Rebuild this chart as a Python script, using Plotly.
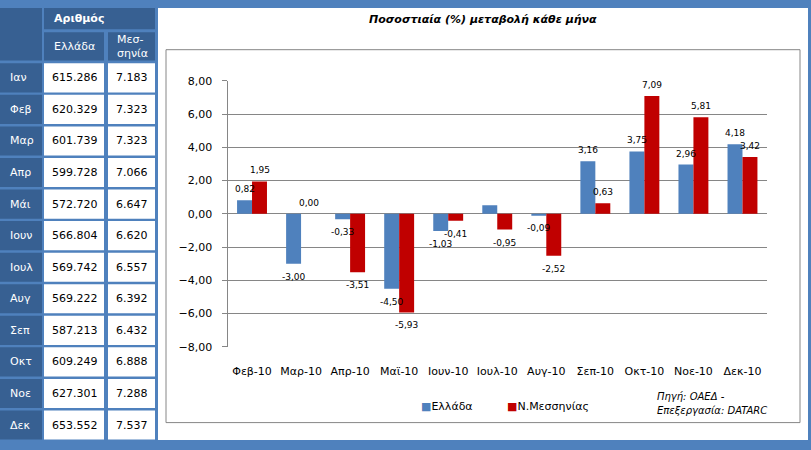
import plotly.graph_objects as go

# ---------------- data ----------------
months = ["Ιαν", "Φεβ", "Μαρ", "Απρ", "Μάι", "Ιουν", "Ιουλ", "Αυγ", "Σεπ", "Οκτ", "Νοε", "Δεκ"]
greece_counts = [615286, 620329, 601739, 599728, 572720, 566804, 569742, 569222, 587213, 609249, 627301, 653552]
messenia_counts = [7183, 7323, 7323, 7066, 6647, 6620, 6557, 6392, 6432, 6888, 7288, 7537]

categories = ["Φεβ-10", "Μαρ-10", "Απρ-10", "Μαϊ-10", "Ιουν-10", "Ιουλ-10",
              "Αυγ-10", "Σεπ-10", "Οκτ-10", "Νοε-10", "Δεκ-10"]
greece_pct = [0.82, -3.00, -0.33, -4.50, -1.03, 0.52, -0.09, 3.16, 3.75, 2.96, 4.18]
messenia_pct = [1.95, 0.00, -3.51, -5.93, -0.41, -0.95, -2.52, 0.63, 7.09, 5.81, 3.42]
greece_label_shown = [True, True, True, True, True, False, True, True, True, True, True]
messenia_label_shown = [True] * 11

y_ticks = [8, 6, 4, 2, 0, -2, -4, -6, -8]

# ---------------- style ----------------
W, H = 811, 450
FONT = "DejaVu Sans"
BLUE = "#4F81BD"
RED = "#C00000"
HEAD = "#376092"
GRID = "#868686"
TXT = "#000000"


def px(x):
    return x / W


def py(y):
    return 1 - y / H


def fmt_pct(v):
    return f"{v:.2f}".replace(".", ",")


def fmt_count(v):
    return f"{v:,}".replace(",", ".")


fig = go.Figure()
fig.add_trace(go.Bar(x=categories, y=greece_pct, name="Ελλάδα", marker_color=BLUE,
                     marker_line_width=0, showlegend=False, hoverinfo="x+y"))
fig.add_trace(go.Bar(x=categories, y=messenia_pct, name="Ν.Μεσσηνίας", marker_color=RED,
                     marker_line_width=0, showlegend=False, hoverinfo="x+y"))

shapes = []
annotations = []


def rect(x0, y0, x1, y1, color, line=None, lw=0):
    shapes.append(dict(type="rect", xref="paper", yref="paper",
                       x0=px(x0), x1=px(x1), y0=py(y1), y1=py(y0),
                       fillcolor=color, line=dict(width=lw, color=line or color),
                       layer="below"))


def text(x, y, s, size=11, color=TXT, anchor="left", bold=False, italic=False, align="left"):
    t = s
    if bold:
        t = "<b>" + t + "</b>"
    if italic:
        t = "<i>" + t + "</i>"
    annotations.append(dict(xref="paper", yref="paper", x=px(x), y=py(y), text=t,
                            showarrow=False, xanchor=anchor, yanchor="middle", align=align,
                            font=dict(family=FONT, size=size, color=color)))


# chart region white + inner frame
rect(158, 2, 808, 447, "white")
shapes.append(dict(type="rect", xref="paper", yref="paper",
                   x0=px(166), x1=px(800), y0=py(429), y1=py(45),
                   fillcolor="rgba(0,0,0,0)", line=dict(width=1, color=GRID), layer="below"))

# table
rect(0, 2, 42, 56, HEAD)
rect(44, 2, 155, 24, HEAD)
rect(44, 27, 104, 56, HEAD)
rect(108, 27, 155, 56, HEAD)
text(52, 13, "Αριθμός", color="white", bold=True)
text(52, 42, "Ελλάδα", color="white")
text(115, 42, "Μεσ-<br>σηνία", color="white")

for i, m in enumerate(months):
    top = 59 + 32.5 * i
    bot = top + 30
    mid = (top + bot) / 2
    rect(0, top, 42, bot, HEAD)
    rect(44, top, 104, bot, "white")
    rect(108, top, 155, bot, "white")
    text(8, mid, m, color="white")
    text(74.5, mid, fmt_count(greece_counts[i]), anchor="center")
    text(131.5, mid, fmt_count(messenia_counts[i]), anchor="center")

# title
text(483, 14, "Ποσοστιαία (%) μεταβολή κάθε μήνα", bold=True, italic=True)
annotations[-1]["xanchor"] = "center"

# data labels
for vals, shown, shift in ((greece_pct, greece_label_shown, -7.5), (messenia_pct, messenia_label_shown, 7.5)):
    for c, v, s in zip(categories, vals, shown):
        if not s:
            continue
        annotations.append(dict(x=c, y=v, xref="x", yref="y", text=fmt_pct(v), showarrow=False,
                                xanchor="center", yanchor="middle", xshift=shift,
                                yshift=11 if v >= 0 else -13,
                                font=dict(family=FONT, size=9, color=TXT)))

# legend (manual)
text(419, 412, f"<span style='color:{BLUE}'>■</span>Ελλάδα")
text(505, 412, f"<span style='color:{RED}'>■</span>Ν.Μεσσηνίας")

# source
text(655, 402, "Πηγή: ΟΑΕΔ -", size=10, italic=True)
text(655, 417, "Επεξεργασία: DATARC", size=10, italic=True)

y_lo, y_hi = py(351), py(77)
fig.update_layout(
    width=W, height=H,
    margin=dict(l=0, r=0, t=0, b=0),
    paper_bgcolor=BLUE,
    plot_bgcolor="rgba(0,0,0,0)",
    separators=",.",
    barmode="group", bargap=0.39, bargroupgap=0,
    font=dict(family=FONT, size=11, color=TXT),
    shapes=shapes,
    annotations=annotations,
    xaxis=dict(domain=[px(227.5), px(767)], type="category", showgrid=False, showline=False,
               ticks="", tickfont=dict(family=FONT, size=11, color=TXT), ticklabelstandoff=16,
               range=[-0.5, 10.5], fixedrange=True),
    xaxis2=dict(overlaying="x", matches="x", anchor="free", position=(y_lo + y_hi) / 2,
                type="category", showline=True, linecolor=GRID, linewidth=1, ticks="outside",
                tickson="boundaries", ticklen=5, tickcolor=GRID, showticklabels=False,
                showgrid=False, zeroline=False, side="bottom"),
    yaxis=dict(domain=[y_lo, y_hi], range=[-8, 8], tickvals=y_ticks, tickformat=".2f",
               showgrid=True, gridcolor=GRID, gridwidth=1, showline=True, linecolor=GRID,
               linewidth=1, ticks="outside", ticklen=5, tickcolor=GRID, zeroline=False,
               tickfont=dict(family=FONT, size=11, color=TXT), ticklabelstandoff=7,
               fixedrange=True),
)

fig.write_html("out.html", config={"displayModeBar": False},
               post_script="document.body.style.margin='0';document.body.style.overflow='hidden';")
